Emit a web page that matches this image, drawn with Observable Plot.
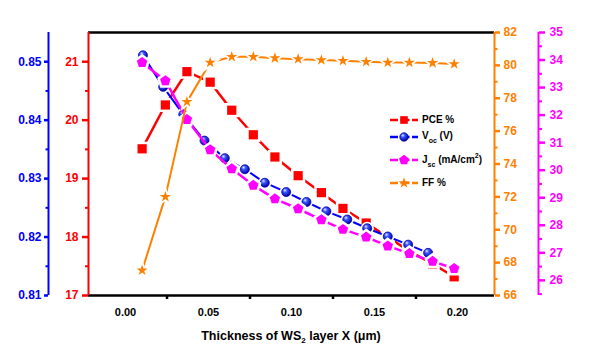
<!DOCTYPE html>
<html><head><meta charset="utf-8">
<script src="https://cdn.jsdelivr.net/npm/d3@7"></script>
<script src="https://cdn.jsdelivr.net/npm/@observablehq/plot@0.6"></script>
<style>
body{margin:0;background:#fff;}
#wrap{position:relative;width:600px;height:355px;font-family:"Liberation Sans",Arial,sans-serif;overflow:hidden;}
.lg{position:absolute;left:389px;font-weight:bold;font-size:10px;color:#000;white-space:nowrap;display:flex;align-items:center;transform:translateY(-50%);line-height:1;}
.lg svg{margin-right:3px;}
.lg sub{font-size:7px;vertical-align:-4px;}
.lg sup{font-size:7px;vertical-align:5px;}
#xt{position:absolute;left:88px;width:406px;top:337px;transform:translateY(-50%);text-align:center;font-weight:bold;font-size:12.5px;color:#000;}
#xt sub{font-size:8px;vertical-align:-3px;}
</style></head><body><div id="wrap"></div><script>
// Thickness values (µm) for PCE, Jsc and FF
const xMain = [0.010, 0.024, 0.037, 0.051, 0.064, 0.077, 0.090, 0.104, 0.118, 0.131, 0.145, 0.158, 0.171, 0.185, 0.198];
// Thickness values (µm) for Voc
const xVoc = [0.0105, 0.0227, 0.0348, 0.0476, 0.0598, 0.0719, 0.0839, 0.0968, 0.109, 0.121, 0.1336, 0.1456, 0.158, 0.1703, 0.1823];
const pce = [19.51, 20.26, 20.83, 20.65, 20.17, 19.75, 19.37, 19.05, 18.76, 18.49, 18.24, 18.00, 17.76, 17.54, 17.32];
const voc = [0.8511, 0.8457, 0.8410, 0.8365, 0.8335, 0.8316, 0.8293, 0.8277, 0.8260, 0.8244, 0.8230, 0.8215, 0.8201, 0.8187, 0.8173];
const jsc = [33.91, 33.25, 31.84, 30.74, 30.05, 29.45, 28.96, 28.60, 28.20, 27.85, 27.57, 27.25, 26.97, 26.69, 26.43];
const ff = [67.53, 72.00, 77.78, 80.17, 80.52, 80.52, 80.44, 80.38, 80.32, 80.28, 80.22, 80.17, 80.17, 80.15, 80.08];

const xTickLabels = [0.00, 0.05, 0.10, 0.15, 0.20];
const xMinorTicks = [0.025, 0.075, 0.125, 0.175];
const pceTicks = [17, 18, 19, 20, 21];
const pceMinor = [17.5, 18.5, 19.5, 20.5];
const vocTicks = [0.81, 0.82, 0.83, 0.84, 0.85];
const vocMinor = [0.815, 0.825, 0.835, 0.845];
const ffTicks = [66, 68, 70, 72, 74, 76, 78, 80, 82];
const ffMinor = [67, 69, 71, 73, 75, 77, 79, 81];
const jscTicks = [26, 27, 28, 29, 30, 31, 32, 33, 34, 35];
const jscMinor = [25.5, 26.5, 27.5, 28.5, 29.5, 30.5, 31.5, 32.5, 33.5, 34.5];

const xDomain = [-0.0223, 0.2223];
const pceDomain = [17, 21.5];
const vocDomain = [0.81, 0.855];
const ffDomain = [66, 82];
const jscDomain = [25.45, 35];

const RED = "#ff0000", BLUE = "#0000ff", MAG = "#ff00ff", ORA = "#ff8000";

// map secondary axes into the primary (PCE) y scale
const vocToY = d3.scaleLinear(vocDomain, pceDomain);
const ffToY = d3.scaleLinear(ffDomain, pceDomain);
const jscToY = d3.scaleLinear(jscDomain, pceDomain);

const pceData = xMain.map((x, i) => ({x, v: pce[i]}));
const vocData = xVoc.map((x, i) => ({x, v: vocToY(voc[i])}));
const jscData = xMain.map((x, i) => ({x, v: jscToY(jsc[i])}));
const ffData = xMain.map((x, i) => ({x, v: ffToY(ff[i])}));

const pentagon = {draw(ctx, size) {
  const r = Math.sqrt(size / (2.5 * Math.sin(2 * Math.PI / 5)));
  for (let k = 0; k < 5; k++) {
    const a = -Math.PI / 2 + k * 2 * Math.PI / 5;
    const px = r * Math.cos(a), py = r * Math.sin(a);
    k ? ctx.lineTo(px, py) : ctx.moveTo(px, py);
  }
  ctx.closePath();
}};

const fmt = (scale, f) => d => d3.format(f)(scale.invert(d));
const axisFont = {fontWeight: "bold", fontSize: 12, label: null};

const chart = Plot.plot({
  width: 600, height: 355,
  marginLeft: 88, marginRight: 106, marginTop: 32, marginBottom: 60,
  x: {domain: xDomain},
  y: {domain: pceDomain},
  style: {fontFamily: "Liberation Sans, Arial, sans-serif", background: "white"},
  marks: [
    // frame top/bottom
    Plot.ruleY([pceDomain[0], pceDomain[1]], {stroke: "black", strokeWidth: 2.5}),
    // x axis
    Plot.axisX(xTickLabels, {tickSize: 0, tickPadding: 13, tickFormat: d3.format(".2f"), fontWeight: "bold", fontSize: 11, label: null}),
    Plot.axisX(xMinorTicks, {tickSize: 4, strokeWidth: 2.5, tickFormat: () => "", label: null}),
    // PCE axis (red, left)
    Plot.ruleX([xDomain[0]], {stroke: RED, strokeWidth: 2}),
    Plot.axisY(pceTicks, {anchor: "left", color: RED, tickSize: 6, strokeWidth: 2.5, tickPadding: 4, tickFormat: d3.format("d"), ...axisFont}),
    Plot.axisY(pceMinor, {anchor: "left", color: RED, tickSize: 3, strokeWidth: 2, tickFormat: () => "", label: null}),
    // Voc axis (blue, far left)
    Plot.ruleX([xDomain[0]], {dx: -40, stroke: BLUE, strokeWidth: 2}),
    Plot.axisY(vocTicks.map(vocToY), {anchor: "left", dx: -40, color: BLUE, tickSize: 4, strokeWidth: 2.5, tickPadding: 3, tickFormat: fmt(vocToY, ".2f"), ...axisFont}),
    Plot.axisY(vocMinor.map(vocToY), {anchor: "left", dx: -40, color: BLUE, tickSize: 2.5, strokeWidth: 2, tickFormat: () => "", label: null}),
    // FF axis (orange, right)
    Plot.ruleX([xDomain[1]], {stroke: ORA, strokeWidth: 2}),
    Plot.axisY(ffTicks.map(ffToY), {anchor: "right", color: ORA, tickSize: 5, strokeWidth: 2.5, tickPadding: 4, tickFormat: fmt(ffToY, "d"), ...axisFont}),
    Plot.axisY(ffMinor.map(ffToY), {anchor: "right", color: ORA, tickSize: 2.5, strokeWidth: 2, tickFormat: () => "", label: null}),
    // Jsc axis (magenta, far right)
    Plot.ruleX([xDomain[1]], {dx: 44, stroke: MAG, strokeWidth: 2}),
    Plot.axisY(jscTicks.map(jscToY), {anchor: "right", dx: 44, color: MAG, tickSize: 6, strokeWidth: 2.5, tickPadding: 5, tickFormat: fmt(jscToY, "d"), ...axisFont}),
    Plot.axisY(jscMinor.map(jscToY), {anchor: "right", dx: 44, color: MAG, tickSize: 3, strokeWidth: 2, tickFormat: () => "", label: null}),
    // PCE
    Plot.line(pceData, {x: "x", y: "v", stroke: RED, strokeWidth: 2.5}),
    Plot.dot(pceData, {x: "x", y: "v", symbol: "square", r: 5.2, fill: RED, stroke: "white", strokeWidth: 5, paintOrder: "stroke"}),
    // Voc
    Plot.line(vocData, {x: "x", y: "v", stroke: BLUE, strokeWidth: 2}),
    Plot.dot(vocData, {x: "x", y: "v", r: 6.5, fill: "white", stroke: "none"}),
    Plot.dot(vocData, {x: "x", y: "v", r: 4.5, fill: "url(#vocgrad)", stroke: "#0000b0", strokeWidth: 0.8}),
    // Jsc
    Plot.line(jscData, {x: "x", y: "v", stroke: MAG, strokeWidth: 2.5}),
    Plot.dot(jscData, {x: "x", y: "v", symbol: pentagon, r: 4.8, fill: MAG, stroke: "white", strokeWidth: 5, paintOrder: "stroke"}),
    // FF
    Plot.line(ffData, {x: "x", y: "v", stroke: ORA, strokeWidth: 2}),
    Plot.dot(ffData, {x: "x", y: "v", symbol: "star", r: 3.5, fill: ORA, stroke: "white", strokeWidth: 3.5, paintOrder: "stroke"})
  ]
});

// gradient for shaded Voc spheres
const defs = d3.select(chart).insert("defs", ":first-child");
const g = defs.append("radialGradient").attr("id", "vocgrad").attr("cx", "40%").attr("cy", "35%").attr("r", "65%").attr("fx", "35%").attr("fy", "30%");
g.append("stop").attr("offset", "0%").attr("stop-color", "#e8ecff");
g.append("stop").attr("offset", "35%").attr("stop-color", "#3a55ff");
g.append("stop").attr("offset", "100%").attr("stop-color", "#0000a0");

const wrap = document.getElementById("wrap");
wrap.appendChild(chart);

// legend
const legendItems = [
  {html: "PCE %", color: RED, symbol: d3.symbolSquare, size: 58, cy: 120},
  {html: "V<sub>oc</sub> (V)", color: BLUE, symbol: d3.symbolCircle, size: 55, cy: 137, grad: true},
  {html: "J<sub>sc</sub> (mA/cm<sup>2</sup>)", color: MAG, symbol: pentagon, size: 65, cy: 160},
  {html: "FF %", color: ORA, symbol: d3.symbolStar, size: 38, cy: 183}
];
for (const it of legendItems) {
  const row = d3.select(wrap).append("div").attr("class", "lg").style("top", it.cy + "px");
  const sw = row.append("svg").attr("width", 30).attr("height", 14);
  sw.append("line").attr("x1", 1).attr("x2", 29).attr("y1", 7).attr("y2", 7).attr("stroke", it.color).attr("stroke-width", 2.5).attr("stroke-dasharray", "8,2.5,9,2.5,8");
  const p = d3.symbol(it.symbol, it.size)();
  if (it.grad) {
    const gd = sw.append("defs").append("radialGradient").attr("id", "lgg").attr("cx", "40%").attr("cy", "35%").attr("r", "65%").attr("fx", "35%").attr("fy", "30%");
    gd.append("stop").attr("offset", "0%").attr("stop-color", "#e8ecff");
    gd.append("stop").attr("offset", "35%").attr("stop-color", "#3a55ff");
    gd.append("stop").attr("offset", "100%").attr("stop-color", "#0000a0");
  }
  sw.append("path").attr("d", p).attr("transform", "translate(15,7)").attr("fill", it.grad ? "url(#lgg)" : it.color).attr("stroke", it.grad ? "#0000b0" : "none").attr("stroke-width", 0.8);
  row.append("span").html(it.html);
}

// x axis title
d3.select(wrap).append("div").attr("id", "xt").html("Thickness of WS<sub>2</sub> layer X (\u03bcm)");
</script></body></html>
